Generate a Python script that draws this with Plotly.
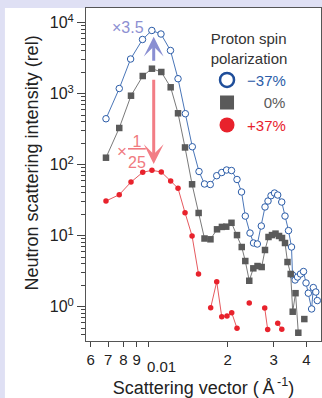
import math
import plotly.graph_objects as go

# Scattering vector q (1/Å) and neutron scattering intensity (rel)
# for three proton spin polarizations. None marks a missing point.
q_neg = [0.00687, 0.00772, 0.00853, 0.00947, 0.01028, 0.01114, 0.01211, 0.01294,
         0.0138, 0.01467, 0.01556, 0.01633, 0.01718, 0.01818, 0.0190, 0.01983,
         0.0207, 0.02173, 0.02261, 0.02337, 0.02436, 0.02512, 0.02598, 0.0269,
         0.02779, 0.02853, 0.0293, 0.03021, 0.03107, 0.03219, 0.03313, 0.03417,
         0.03508, 0.03539, 0.03619, 0.03698, 0.03797, 0.03898, 0.03985, 0.04067,
         0.04186, 0.04249, 0.04343, 0.04401]
i_neg = [444, 1184, 3080, 5800, 7770, 6930, 4060, 1626,
         523, 179, 80.2, 53.5, 52.6, 70, 77.6, 84.2,
         82.8, 61.9, 41.3, 18.9, 10.9, 7.89, 7.64, 13.7,
         25.4, 30.8, 36.6, 39.9, 37.4, 29.8, 18.9, 11.8,
         6.93, 2.80, 2.38, 2.62, 2.89, 3.13, 2.16, 1.55,
         0.93, 1.86, 1.61, 1.22]

q_zero = [0.00687, 0.00772, 0.00856, 0.00949, 0.01029, 0.01117, 0.01213, 0.01294,
          0.01376, 0.01464, 0.01551, 0.01633, 0.01721, 0.01823, 0.01903, 0.01977,
          0.0207, 0.02173, 0.02265, 0.02337, 0.0242, 0.02508, 0.02602, 0.02699,
          0.02779, 0.02866, 0.02955, 0.03048, 0.03144, 0.03227, 0.03313, 0.03387,
          0.03483, 0.03545, 0.03634, 0.03724, 0.0383, 0.03926]
i_zero = [125.5, 329, 937, 1775, 2250, 2022, 1231, 530,
          175, 53, 20.9, 9.13, 8.90, 12.3, 13.3, 13.4,
          15.2, 10.2, 6.93, 4.40, 2.32, 3.47, 3.74, 3.62,
          6.29, 9.59, 10.2, 10.7, 9.91, 9.28, 7.89, 4.26,
          2.89, 0.85, 1.55, 0.43, None, 0.67]

q_pos = [0.00687, 0.00772, 0.00856, 0.00949, 0.01029, 0.01117, 0.01213, 0.01294,
         0.01376, 0.01464, 0.01549, 0.0163, 0.01724, 0.01818, 0.0190, 0.0199,
         0.02074, 0.02173, 0.0230, 0.0242, 0.0260, 0.02772, 0.02845, 0.0298,
         0.03108, 0.03221]
i_pos = [30.8, 37.8, 57.0, 78.2, 83.4, 78.9, 58.9, 46.5,
         21.1, 9.91, 2.89, None, 0.968, 2.25, 0.723, 0.740,
         0.823, 0.496, None, 1.13, None, 0.959, 0.477, None,
         0.584, 0.481]

legend_labels = ["\u221237%", "\u2007\u20070%", "+37%"]

# Arrow positions: peak q, tips and tails of the scaling arrows
arrow_q = 0.01045
up_tail, up_tip = 2768, 6353
down_tail, down_tip = 1648, 102.3

# x ticks: digit labels per decade, the decade value itself set one line lower
x_ticks = [0.006, 0.007, 0.008, 0.009, 0.01, 0.02, 0.03, 0.04]
x_ticktext = ["6", "7", "8", "9", "", "2", "3", "4"]
x_decade = 0.01
y_ticks = [1, 10, 100, 1000, 10000]
y_ticktext = ["10<sup>0</sup>", "10<sup>1</sup>", "10<sup>2</sup>",
              "10<sup>3</sup>", "10<sup>4</sup>"]
y_minor = [k * 10 ** e for e in range(-1, 4) for k in range(2, 10)]

BLUE = "#2b5ca8"
GRAY = "#5a5a5a"
RED = "#e8222c"
FONT = "Liberation Sans, Arial, sans-serif"

fig = go.Figure()

# data curves
fig.add_trace(go.Scatter(
    x=q_neg, y=i_neg, mode="lines+markers", showlegend=False,
    line=dict(color="#4a76b8", width=1),
    marker=dict(symbol="circle", size=6.5, color="white",
                line=dict(color=BLUE, width=1)),
))
fig.add_trace(go.Scatter(
    x=q_zero, y=i_zero, mode="lines+markers", showlegend=False,
    line=dict(color="#7a7a7a", width=1),
    marker=dict(symbol="square", size=6.5, color=GRAY),
))
fig.add_trace(go.Scatter(
    x=q_pos, y=i_pos, mode="lines+markers", showlegend=False,
    line=dict(color="#e65a5f", width=1),
    marker=dict(symbol="circle", size=5.5, color=RED),
))

# legend entries (marker only)
legend_styles = [
    (BLUE, dict(symbol="circle", size=14, color="white", line=dict(color="#1f4e9a", width=2.5))),
    (GRAY, dict(symbol="square", size=14, color=GRAY)),
    (RED, dict(symbol="circle", size=15, color=RED)),
]
for label, (col, mk) in zip(legend_labels, legend_styles):
    fig.add_trace(go.Scatter(
        x=[None], y=[None], mode="markers", marker=mk,
        name=f"<span style='color:{col}'>{label}</span>",
    ))

L = math.log10
annotations = [
    dict(x=L(arrow_q), y=L(up_tip), ax=L(arrow_q), ay=L(up_tail),
         xref="x", yref="y", axref="x", ayref="y", text="", showarrow=True,
         arrowhead=3, arrowsize=1.1, arrowwidth=3, arrowcolor="#8a8fd2", standoff=0),
    dict(x=L(arrow_q), y=L(down_tip), ax=L(arrow_q), ay=L(down_tail),
         xref="x", yref="y", axref="x", ayref="y", text="", showarrow=True,
         arrowhead=3, arrowsize=1.1, arrowwidth=3, arrowcolor="#f27d85", standoff=0),
    dict(x=-2.080, y=3.93, xref="x", yref="y", yanchor="middle",
         text="\u00d73.5", showarrow=False,
         font=dict(family=FONT, size=16, color="#8d90d2")),
    dict(x=-2.103, y=2.186, xref="x", yref="y", yanchor="middle",
         text="\u00d7", showarrow=False,
         font=dict(family=FONT, size=17, color="#f07a80")),
    dict(x=-2.044, y=2.186, xref="x", yref="y", yanchor="middle",
         text="<u>\u00a01\u00a0</u><br>25", showarrow=False,
         font=dict(family=FONT, size=16, color="#f07a80")),
    dict(x=L(x_decade), y=-0.077, xref="x", yref="paper",
         xanchor="left", yanchor="middle", xshift=-4,
         text=f"{x_decade:g}", showarrow=False,
         font=dict(family=FONT, size=15, color="#222")),
    dict(x=-0.281, y=0.536, xref="paper", yref="paper",
         text="Neutron scattering intensity (rel)", textangle=-90, showarrow=False,
         font=dict(family=FONT, size=18, color="#222")),
]

fig.update_layout(
    width=322, height=398,
    margin=dict(l=86, r=1, t=8, b=57, autoexpand=False),
    paper_bgcolor="#dfe0f4", plot_bgcolor="white",
    font=dict(family=FONT, size=15, color="#222"),
    annotations=annotations,
    shapes=[dict(type="rect", xref="paper", yref="paper", x0=-0.345, x1=1.01,
                 y0=-0.175, y1=1.0, fillcolor="white", line_width=0, layer="below")],
    legend=dict(
        x=0.515, y=0.95, xanchor="left", yanchor="top",
        bgcolor="rgba(0,0,0,0)", itemsizing="trace",
        font=dict(family=FONT, size=15),
        title=dict(text="Proton spin<br>polarization", side="top center",
                   font=dict(family=FONT, size=15, color="#333")),
    ),
)

fig.update_xaxes(
    type="log", range=[-2.2393, -1.3424], automargin=False,
    tickmode="array", tickvals=x_ticks, ticktext=x_ticktext, tickangle=0,
    ticks="outside", ticklen=5, tickcolor="#444", tickwidth=1,
    showline=True, linecolor="#555", linewidth=1, mirror=True,
    showgrid=False, zeroline=False,
    tickfont=dict(family=FONT, size=15, color="#222"),
    title=dict(text="Scattering vector (\u2009\u00c5<sup>\u2009-1</sup>)", standoff=14,
               font=dict(family=FONT, size=18, color="#222")),
)
fig.update_yaxes(
    type="log", range=[-0.483, 4.207], automargin=False,
    tickmode="array", tickvals=y_ticks, ticktext=y_ticktext,
    ticks="outside", ticklen=8, tickcolor="#444", tickwidth=1,
    minor=dict(tickmode="array", tickvals=y_minor, ticks="outside",
               ticklen=4, tickcolor="#444", showgrid=False),
    showline=True, linecolor="#555", linewidth=1, mirror=True,
    showgrid=False, zeroline=False,
    tickfont=dict(family=FONT, size=16, color="#222"),
)

fig.write_html("out.html")
